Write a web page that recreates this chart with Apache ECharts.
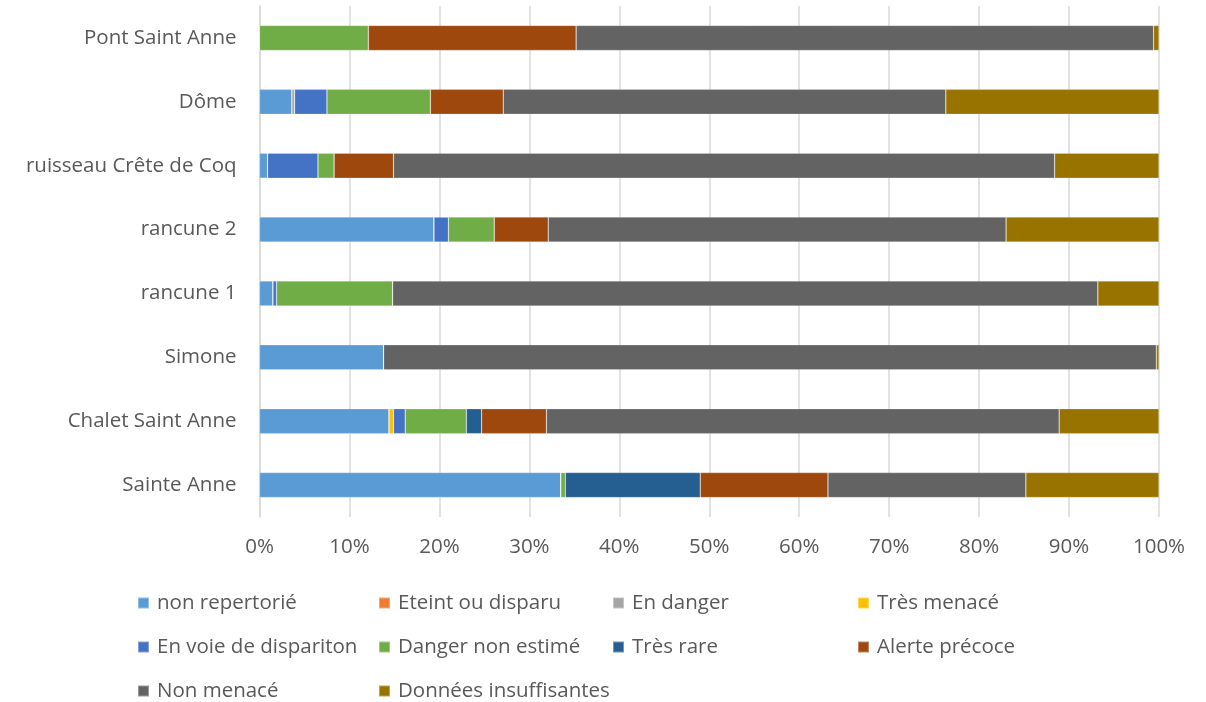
<!DOCTYPE html>
<html>
<head>
<meta charset="utf-8">
<script src="https://cdn.jsdelivr.net/npm/echarts@6/dist/echarts.min.js"></script>
<style>html,body{margin:0;padding:0;background:#fff;}#c{width:1206px;height:702px;}</style>
</head>
<body>
<div id="c"></div>
<script>
const categories = ["Sainte Anne", "Chalet Saint Anne", "Simone", "rancune 1", "rancune 2", "ruisseau Crête de Coq", "Dôme", "Pont Saint Anne"];
const legendNames = ["non repertorié", "Eteint ou disparu", "En danger", "Très menacé", "En voie de dispariton", "Danger non estimé", "Très rare", "Alerte précoce", "Non menacé", "Données insuffisantes"];
const colors = ["#5B9BD5", "#ED7D31", "#A5A5A5", "#FFC000", "#4472C4", "#70AD47", "#255E91", "#9E480E", "#636363", "#997300"];
// values in %, order follows categories
const nonRepertorie      = [33.5, 14.4, 13.8, 1.5, 19.4, 0.9, 3.6, 0];
const eteintOuDisparu    = [0, 0, 0, 0, 0, 0, 0, 0];
const enDanger           = [0, 0, 0, 0, 0, 0, 0.3, 0];
const tresMenace         = [0, 0.5, 0, 0, 0, 0, 0, 0];
const enVoieDisparition  = [0, 1.3, 0, 0.4, 1.6, 5.6, 3.6, 0];
const dangerNonEstime    = [0.5, 6.8, 0, 12.9, 5.1, 1.8, 11.5, 12.1];
const tresRare           = [15.0, 1.7, 0, 0, 0, 0, 0, 0];
const alertePrecoce      = [14.2, 7.2, 0, 0, 6.0, 6.6, 8.1, 23.1];
const nonMenace          = [22.0, 57.0, 85.9, 78.4, 50.9, 73.5, 49.2, 64.2];
const donneesInsuff      = [14.8, 11.1, 0.3, 6.8, 17.0, 11.6, 23.7, 0.6];
const allData = [nonRepertorie, eteintOuDisparu, enDanger, tresMenace, enVoieDisparition, dangerNonEstime, tresRare, alertePrecoce, nonMenace, donneesInsuff];
const xTicks = [0, 10, 20, 30, 40, 50, 60, 70, 80, 90, 100];

const font = "Open Sans";
const fs = 20.5;
const txt = "#595959";
const series = legendNames.map((n, i) => ({
  name: n, type: 'bar', stack: 'total', barWidth: 25,
  itemStyle: { color: colors[i], borderColor: 'rgba(255,255,255,0.35)', borderWidth: 0.6 },
  data: allData[i]
}));

function legendCol(names, left) {
  return {
    left: left, top: 587, height: 140, width: 240, orient: 'vertical', itemGap: 22,
    itemWidth: 11, itemHeight: 11, icon: 'rect',
    textStyle: { fontFamily: font, fontSize: fs, lineHeight: 22, color: txt, padding: [0, 0, 0, 3] },
    data: names
  };
}

const chart = echarts.init(document.getElementById('c'), null, { renderer: 'canvas' });
chart.setOption({
  animation: false,
  textStyle: { fontFamily: font },
  grid: { left: 259.5, right: 47, top: 6, bottom: 185, containLabel: false },
  xAxis: {
    type: 'value', min: xTicks[0], max: xTicks[xTicks.length - 1], interval: 10,
    axisLabel: { formatter: v => v + '%', color: txt, fontSize: fs, fontFamily: font, margin: 20 },
    splitLine: { show: true, lineStyle: { color: '#d9d9d9', width: 1.5 } },
    axisLine: { show: false }, axisTick: { show: false }
  },
  yAxis: {
    type: 'category', data: categories,
    axisLabel: { color: txt, fontSize: fs, fontFamily: font, margin: 23 },
    axisLine: { show: true, lineStyle: { color: '#d9d9d9', width: 1.5 } },
    axisTick: { show: false }
  },
  legend: [
    legendCol([legendNames[0], legendNames[4], legendNames[8]], 132),
    legendCol([legendNames[1], legendNames[5], legendNames[9]], 373),
    legendCol([legendNames[2], legendNames[6]], 607),
    legendCol([legendNames[3], legendNames[7]], 852)
  ],
  series: series
});
</script>
</body>
</html>
